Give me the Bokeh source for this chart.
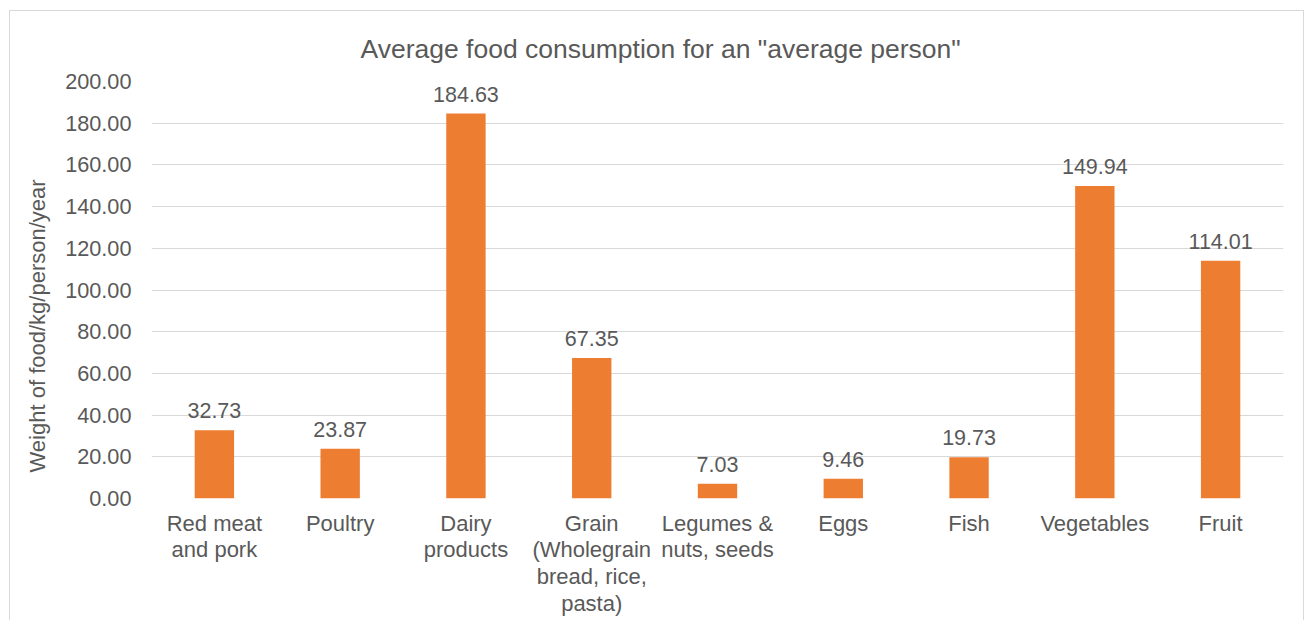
from bokeh.plotting import figure
from bokeh.models import (ColumnDataSource, FactorRange, Range1d, FixedTicker,
                          NumeralTickFormatter, LabelSet, Title)
from bokeh.core.properties import value
from bokeh.embed import file_html
from bokeh.resources import INLINE

categories = ["Red meat\nand pork", "Poultry", "Dairy\nproducts",
              "Grain\n(Wholegrain\nbread, rice,\npasta)", "Legumes &\nnuts, seeds",
              "Eggs", "Fish", "Vegetables", "Fruit"]
values = [32.73, 23.87, 184.63, 67.35, 7.03, 9.46, 19.73, 149.94, 114.01]
y_ticks = [0, 20, 40, 60, 80, 100, 120, 140, 160, 180, 200]
title_text = 'Average food consumption for an "average person"'
y_label_text = "Weight of food/kg/person/year"

FONT = "Liberation Sans"
TXT = "#595959"
GRID = "#d9d9d9"
BAR = "#ED7D31"

src = ColumnDataSource(dict(cat=categories, val=values,
                            lab=[f"{v:.2f}" for v in values]))

p = figure(width=1295, height=610, x_range=FactorRange(*categories, range_padding=0),
           y_range=Range1d(0, 200), output_backend="svg", toolbar_location=None,
           min_border_left=141, min_border_right=22, min_border_top=70,
           min_border_bottom=123, title=None)
p.margin = (10, 0, 0, 9)
p.styles = {"border-top": f"1px solid {GRID}", "border-left": f"1px solid {GRID}",
            "border-right": f"1px solid {GRID}"}
p.outline_line_color = None
p.background_fill_color = "white"
p.border_fill_color = "white"

p.vbar(x="cat", top="val", width=0.313, source=src, fill_color=BAR, line_color=None)

labels = LabelSet(x="cat", y="val", text="lab", source=src, text_align="center",
                  text_baseline="alphabetic", y_offset=12, text_font=value(FONT),
                  text_font_size=value("21.5px"), text_color=TXT)
p.add_layout(labels)

p.yaxis.ticker = FixedTicker(ticks=y_ticks)
p.yaxis.formatter = NumeralTickFormatter(format="0.00")
p.yaxis.axis_line_color = None
p.yaxis.major_tick_line_color = None
p.yaxis.minor_tick_line_color = None
p.yaxis.major_tick_out = 0
p.yaxis.major_tick_in = 0
p.yaxis.major_label_standoff = 20
p.yaxis.major_label_text_font = FONT
p.yaxis.major_label_text_font_size = "21.7px"
p.yaxis.major_label_text_color = TXT

p.xaxis.axis_line_color = None
p.xaxis.major_tick_line_color = None
p.xaxis.minor_tick_line_color = None
p.xaxis.major_tick_out = 0
p.xaxis.major_tick_in = 0
p.xaxis.major_label_standoff = 12
p.xaxis.major_label_text_font = FONT
p.xaxis.major_label_text_font_size = "22px"
p.xaxis.major_label_text_line_height = 1.07
p.xaxis.major_label_text_color = TXT

p.xgrid.grid_line_color = None
p.ygrid.grid_line_color = GRID
p.ygrid.grid_line_width = 1

title = Title(text=title_text, align="left", offset=209, standoff=32,
              vertical_align="top",
              text_font=FONT, text_font_size="26.5px", text_color=TXT,
              text_font_style="normal")
p.add_layout(title, "above")

ylab = Title(text=y_label_text, align="left", offset=26, standoff=25,
             text_font=FONT, text_font_size="22px", text_color=TXT,
             text_font_style="normal")
p.add_layout(ylab, "left")

open("out.html", "w").write(file_html(p, INLINE))
